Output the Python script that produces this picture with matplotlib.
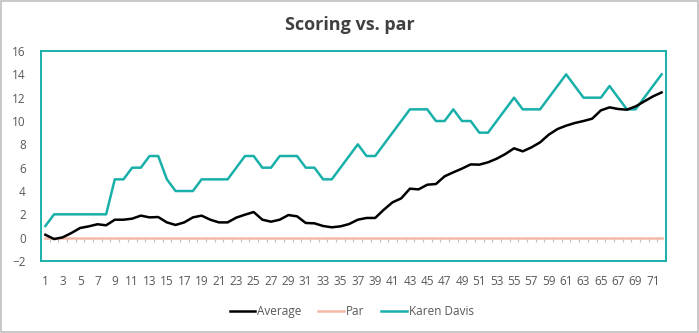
import numpy as np
import matplotlib.pyplot as plt
from matplotlib.patches import Rectangle

# Data
rounds = np.arange(1, 73)
average = [0.25, -0.12, 0.03, 0.4, 0.83, 0.97, 1.15, 1.06, 1.54, 1.54,
           1.63, 1.89, 1.74, 1.77, 1.31, 1.09, 1.31, 1.74, 1.89, 1.54,
           1.31, 1.31, 1.72, 1.97, 2.2, 1.54, 1.37, 1.54, 1.94, 1.83,
           1.26, 1.23, 1.0, 0.89, 0.97, 1.17, 1.54, 1.69, 1.69, 2.4,
           3.03, 3.37, 4.2, 4.14, 4.54, 4.6, 5.26, 5.6, 5.92, 6.28,
           6.26, 6.46, 6.77, 7.17, 7.66, 7.4, 7.74, 8.17, 8.83, 9.31,
           9.6, 9.83, 10.0, 10.2, 10.91, 11.17, 11.03, 10.97, 11.25, 11.68,
           12.11, 12.45]
par = [0] * 72
karen = [1, 2, 2, 2, 2, 2, 2, 2, 5, 5,
         6, 6, 7, 7, 5, 4, 4, 4, 5, 5,
         5, 5, 6, 7, 7, 6, 6, 7, 7, 7,
         6, 6, 5, 5, 6, 7, 8, 7, 7, 8,
         9, 10, 11, 11, 11, 10, 10, 11, 10, 10,
         9, 9, 10, 11, 12, 11, 11, 11, 12, 13,
         14, 13, 12, 12, 12, 13, 12, 11, 11, 12,
         13, 14]

teal = "#1AB0AA"
salmon = "#F5B9A9"
text_col = "#595959"

plt.rcParams['font.family'] = ['Open Sans', 'DejaVu Sans']

fig = plt.figure(figsize=(6.99, 3.33), dpi=100)
fig.patches.append(Rectangle((0.001, 0.002), 0.997, 0.995, transform=fig.transFigure,
                             fill=False, edgecolor="#BFBFBF", linewidth=1.2))
ax = fig.add_axes([0.0587, 0.2162, 0.894, 0.6306])

ax.plot(rounds, average, color="black", lw=1.8, label="Average", zorder=4)
ax.plot(rounds, par, color=salmon, lw=1.8, label="Par", zorder=2)
ax.plot(rounds, karen, color=teal, lw=1.8, label="Karen Davis", zorder=3)

# small category-boundary ticks hanging below the zero line
bounds = np.arange(1.5, 72.5)
ax.vlines(bounds, 0, -0.4, color="#BFBFBF", lw=0.8, zorder=1)

ax.set_xlim(0.5, 72.5)
ax.set_ylim(-2, 16)
ax.set_yticks(range(-2, 17, 2))
ax.set_xticks(rounds[::2])
ax.set_xticklabels([str(r) for r in rounds[::2]])
ax.tick_params(axis='x', length=0, pad=10, labelsize=8.5, colors=text_col)
ax.tick_params(axis='y', length=0, pad=11, labelsize=8.5, colors=text_col)

for s in ax.spines.values():
    s.set_color(teal)
    s.set_linewidth(1.4)

fig.text(0.5, 0.925, "Scoring vs. par", ha='center', va='center',
         fontsize=13, fontweight='bold', color="#404040")

fig.legend(loc='center', bbox_to_anchor=(0.503, 0.064), ncol=3, frameon=False,
           fontsize=8.5, handlelength=2.2, handletextpad=0.15, columnspacing=1.4,
           labelcolor=text_col)

fig.savefig("out.png", dpi=100)
